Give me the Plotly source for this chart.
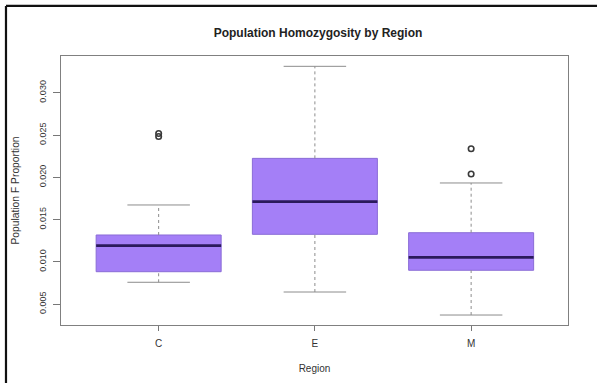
import plotly.graph_objects as go

# Summary statistics of population F proportion per region
regions = ["C", "E", "M"]
q1 = [0.00884, 0.01326, 0.00901]
median = [0.01192, 0.01712, 0.01054]
q3 = [0.01318, 0.02224, 0.01345]
whisker_low = [0.00759, 0.00644, 0.00372]
whisker_high = [0.01673, 0.03312, 0.01933]
outlier_region = ["C", "C", "M", "M"]
outlier_value = [0.02518, 0.02482, 0.02338, 0.02039]

y_ticks = [0.005, 0.010, 0.015, 0.020, 0.025, 0.030]

FILL = "#a47ff7"
EDGE = "#8a6cd6"
MEDIAN = "#2b1a5c"
WHISKER = "#8c8c8c"
TEXT = "#333333"

idx = {r: i for i, r in enumerate(regions)}
half_box = 0.4
half_cap = 0.2

fig = go.Figure()

# Boxes (interquartile range)
fig.add_trace(go.Box(
    x=list(range(len(regions))),
    q1=q1, median=median, q3=q3,
    lowerfence=q1, upperfence=q3,
    fillcolor=FILL,
    line=dict(color=EDGE, width=1),
    width=2 * half_box,
    whiskerwidth=0,
    boxpoints=False,
    hoverinfo="skip",
    showlegend=False,
))

# Dashed whiskers, solid caps and thick medians
for i, r in enumerate(regions):
    for lo, hi in ((whisker_low[i], q1[i]), (q3[i], whisker_high[i])):
        fig.add_trace(go.Scatter(
            x=[i, i], y=[lo, hi], mode="lines",
            line=dict(color=WHISKER, width=1, dash="3px,3px"),
            hoverinfo="skip", showlegend=False,
        ))
    for w in (whisker_low[i], whisker_high[i]):
        fig.add_trace(go.Scatter(
            x=[i - half_cap, i + half_cap], y=[w, w], mode="lines",
            line=dict(color=WHISKER, width=1),
            hoverinfo="skip", showlegend=False,
        ))
    fig.add_trace(go.Scatter(
        x=[i - half_box, i + half_box], y=[median[i], median[i]], mode="lines",
        line=dict(color=MEDIAN, width=2.6),
        hoverinfo="skip", showlegend=False,
    ))

# Outliers
fig.add_trace(go.Scatter(
    x=[idx[r] for r in outlier_region], y=outlier_value, mode="markers",
    marker=dict(symbol="circle-open", size=5.5, color="#3a3a3a", line=dict(width=1.6)),
    hoverinfo="skip", showlegend=False,
))

# Page frame along top and left
fig.add_shape(type="line", xref="paper", yref="paper",
              x0=-0.1085, x1=1.06, y0=1.186, y1=1.186,
              line=dict(color="#111111", width=2.2))
fig.add_shape(type="line", xref="paper", yref="paper",
              x0=-0.1085, x1=-0.1085, y0=1.186, y1=-0.22,
              line=dict(color="#111111", width=2.2))

fig.update_layout(
    width=597, height=383,
    margin=dict(l=61, r=29, t=56, b=58),
    paper_bgcolor="white", plot_bgcolor="white",
    font=dict(family="Liberation Sans, Arial, sans-serif", color=TEXT, size=10),
    title=dict(
        text="<b>Population Homozygosity by Region</b>",
        x=318 / 597, xanchor="center",
        y=1 - 33 / 383, yanchor="middle",
        font=dict(size=12, color="#222222"),
    ),
    xaxis=dict(
        range=[-0.625, 2.62],
        tickmode="array", tickvals=list(range(len(regions))), ticktext=regions,
        ticks="outside", ticklen=5, tickcolor="#777777",
        ticklabelstandoff=4,
        showgrid=False, zeroline=False,
        showline=True, linecolor="#808080", linewidth=1, mirror=True,
        tickfont=dict(size=10, color=TEXT),
        title=dict(text="Region", font=dict(size=10, color=TEXT), standoff=16),
    ),
    yaxis=dict(
        range=[0.00254, 0.03434],
        tickmode="array", tickvals=y_ticks,
        ticktext=[f"{v:.3f}" for v in y_ticks],
        tickangle=-90,
        ticks="outside", ticklen=7, tickcolor="#777777",
        ticklabelstandoff=3,
        showgrid=False, zeroline=False,
        showline=True, linecolor="#808080", linewidth=1, mirror=True,
        tickfont=dict(size=9, color=TEXT),
        title=dict(text="Population F Proportion", font=dict(size=10.3, color=TEXT), standoff=16),
    ),
)

fig.write_html("out.html")
